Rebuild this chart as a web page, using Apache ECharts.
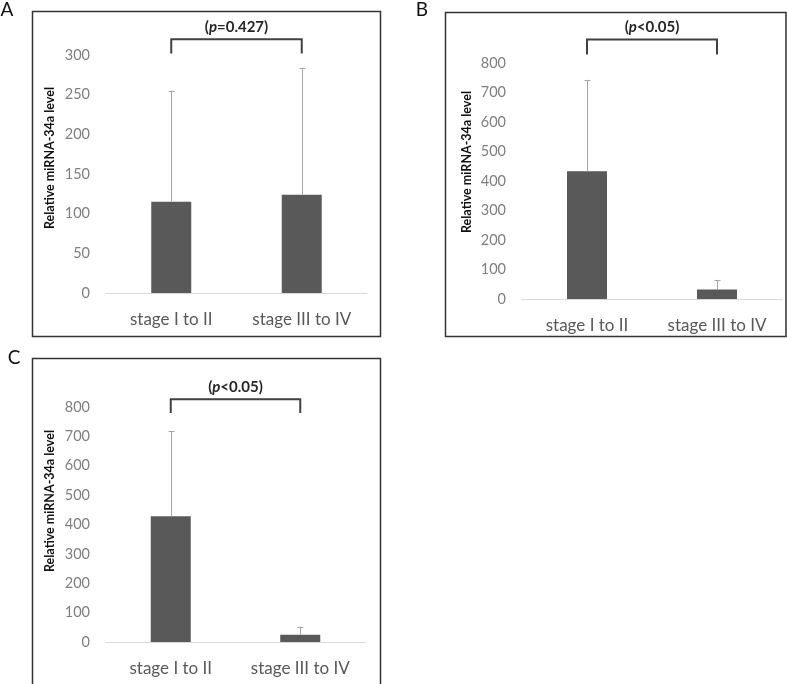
<!DOCTYPE html>
<html>
<head>
<meta charset="utf-8">
<script src="https://cdn.jsdelivr.net/npm/echarts@6/dist/echarts.min.js"></script>
<style>
html,body{margin:0;padding:0;background:#fff;}
#chart{width:787px;height:684px;}
</style>
</head>
<body>
<div id="chart"></div>
<script>
// ---- data ----
var categories = ['stage I to II', 'stage III to IV'];
var meanA = [115, 124];
var upperA = [255, 284];
var meanB = [433, 32];
var upperB = [743, 65];
var meanC = [428, 25];
var upperC = [717, 52];
var ticksA = { max: 300, interval: 50 };
var ticksB = { max: 800, interval: 100 };
var ticksC = { max: 800, interval: 100 };
var pTextA = '=0.427';
var pTextB = '<0.05';
var pTextC = '<0.05';
// bracket levels in data units [bottom, top]
var bracketA = [302, 320];
var bracketB = [829, 880];
var bracketC = [780, 826];
var yTitle = 'Relative miRNA-34a level';

var FONT = 'Lato, "Open Sans", sans-serif';
var chart = echarts.init(document.getElementById('chart'), null, { renderer: 'canvas' });

function xAx(gi) {
  return {
    type: 'category', gridIndex: gi, data: categories,
    axisLine: { show: true, lineStyle: { color: '#d9d9d9', width: 1 } },
    axisTick: { show: false },
    axisLabel: { color: '#595959', fontSize: 17, fontFamily: FONT, margin: 18 }
  };
}
function yAx(gi, t) {
  return {
    type: 'value', gridIndex: gi, min: 0, max: t.max, interval: t.interval,
    axisLine: { show: false }, axisTick: { show: false },
    splitLine: { show: false },
    axisLabel: { color: '#7f7f7f', fontSize: 14.5, fontFamily: FONT, margin: 16 }
  };
}
function barSeries(gi, vals) {
  return {
    type: 'bar', xAxisIndex: gi, yAxisIndex: gi, data: vals, barWidth: 40,
    itemStyle: { color: '#595959' }, silent: true, z: 2
  };
}
function errSeries(gi, means, uppers) {
  var d = means.map(function (m, i) { return [i, m, uppers[i]]; });
  return {
    type: 'custom', xAxisIndex: gi, yAxisIndex: gi, data: d, z: 3, silent: true,
    renderItem: function (params, api) {
      var p0 = api.coord([api.value(0), api.value(1)]);
      var p1 = api.coord([api.value(0), api.value(2)]);
      var x = Math.round(p0[0]) + 0.5;
      return {
        type: 'group', children: [
          { type: 'line', shape: { x1: x, y1: p0[1], x2: x, y2: p1[1] }, style: { stroke: '#a6a6a6', lineWidth: 1 } },
          { type: 'line', shape: { x1: x - 3, y1: Math.round(p1[1]) + 0.5, x2: x + 3, y2: Math.round(p1[1]) + 0.5 }, style: { stroke: '#a6a6a6', lineWidth: 1 } }
        ]
      };
    }
  };
}
function bracketSeries(gi, lv, txt) {
  return {
    type: 'custom', xAxisIndex: gi, yAxisIndex: gi, data: [[0, 1, lv[0], lv[1]]], z: 4, silent: true, clip: false,
    renderItem: function (params, api) {
      var a = api.coord([api.value(0), api.value(2)]);
      var b = api.coord([api.value(0), api.value(3)]);
      var c = api.coord([api.value(1), api.value(3)]);
      var d = api.coord([api.value(1), api.value(2)]);
      return {
        type: 'group', children: [
          { type: 'polyline', shape: { points: [a, b, c, d] }, style: { stroke: '#404040', lineWidth: 2, fill: null } },
          { type: 'text', x: (b[0] + c[0]) / 2, y: b[1] - 12,
            style: { text: '{n|(}{i|p}{n|' + txt + ')}', align: 'center', verticalAlign: 'middle',
              rich: { n: { fontSize: 15, fontFamily: FONT, fill: '#262626', fontWeight: 'bold' },
                      i: { fontSize: 15, fontFamily: FONT, fill: '#262626', fontWeight: 'bold', fontStyle: 'italic' } } } }
        ]
      };
    }
  };
}

var option = {
  backgroundColor: '#ffffff',
  animation: false,
  grid: [
    { left: 106, right: 420, top: 55, bottom: 391 },
    { left: 522, right: 5, top: 63, bottom: 385 },
    { left: 106, right: 422, top: 407, bottom: 42 }
  ],
  xAxis: [xAx(0), xAx(1), xAx(2)],
  yAxis: [yAx(0, ticksA), yAx(1, ticksB), yAx(2, ticksC)],
  series: [
    barSeries(0, meanA), errSeries(0, meanA, upperA), bracketSeries(0, bracketA, pTextA),
    barSeries(1, meanB), errSeries(1, meanB, upperB), bracketSeries(1, bracketB, pTextB),
    barSeries(2, meanC), errSeries(2, meanC, upperC), bracketSeries(2, bracketC, pTextC)
  ],
  graphic: [
    { type: 'rect', shape: { x: 32.5, y: 11.5, width: 348, height: 325 }, style: { fill: null, stroke: '#333', lineWidth: 1.5 }, z: 10 },
    { type: 'rect', shape: { x: 445.5, y: 12.5, width: 340.5, height: 324 }, style: { fill: null, stroke: '#333', lineWidth: 1.5 }, z: 10 },
    { type: 'rect', shape: { x: 32.5, y: 358.5, width: 348, height: 340 }, style: { fill: null, stroke: '#333', lineWidth: 1.5 }, z: 10 },
    { type: 'text', x: 7, y: 10, style: { text: 'A', fontSize: 19, fontFamily: FONT, fill: '#111', align: 'center', verticalAlign: 'middle' } },
    { type: 'text', x: 422, y: 10, style: { text: 'B', fontSize: 19, fontFamily: FONT, fill: '#111', align: 'center', verticalAlign: 'middle' } },
    { type: 'text', x: 14, y: 358, style: { text: 'C', fontSize: 19, fontFamily: FONT, fill: '#111', align: 'center', verticalAlign: 'middle' } },
    { type: 'text', x: 50, y: 158, rotation: Math.PI / 2, style: { text: yTitle, fontSize: 12.5, fontWeight: 'bold', fontFamily: FONT, fill: '#111', align: 'center', verticalAlign: 'middle' } },
    { type: 'text', x: 467, y: 162, rotation: Math.PI / 2, style: { text: yTitle, fontSize: 12.5, fontWeight: 'bold', fontFamily: FONT, fill: '#111', align: 'center', verticalAlign: 'middle' } },
    { type: 'text', x: 50, y: 501, rotation: Math.PI / 2, style: { text: yTitle, fontSize: 12.5, fontWeight: 'bold', fontFamily: FONT, fill: '#111', align: 'center', verticalAlign: 'middle' } }
  ]
};
chart.setOption(option);
</script>
</body>
</html>
